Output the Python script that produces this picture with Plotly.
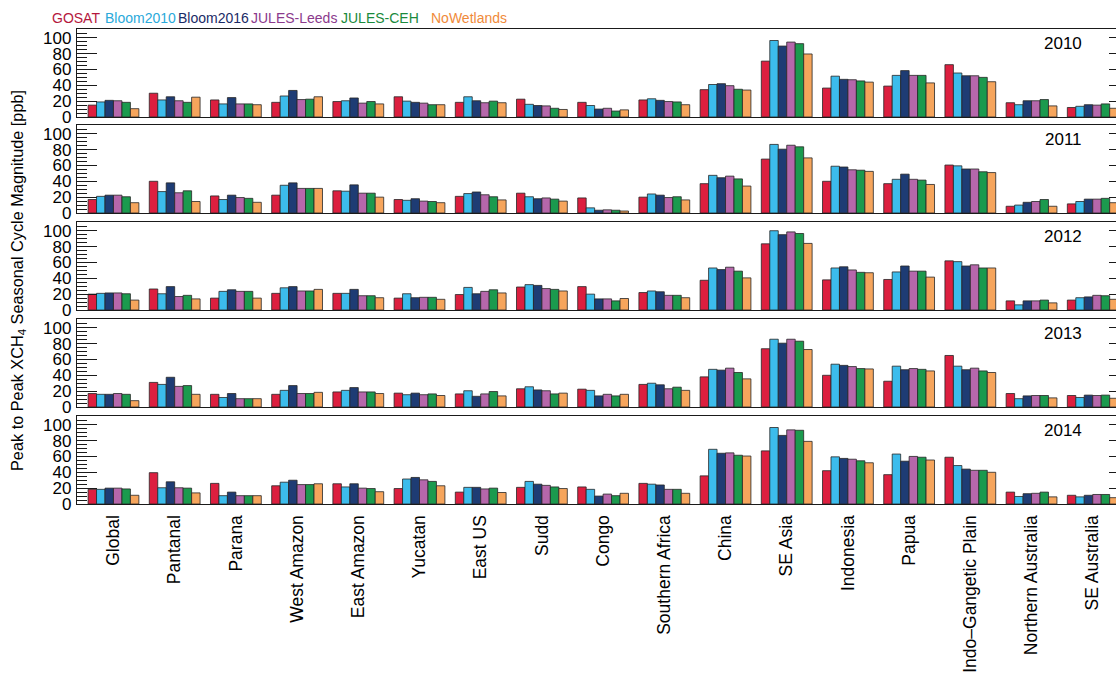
import plotly.graph_objects as go

regions = ["Global", "Pantanal", "Parana", "West Amazon", "East Amazon", "Yucatan",
           "East US", "Sudd", "Congo", "Southern Africa", "China", "SE Asia",
           "Indonesia", "Papua", "Indo–Gangetic Plain", "Northern Australia", "SE Australia"]
years = [2010, 2011, 2012, 2013, 2014]
series = ["GOSAT", "Bloom2010", "Bloom2016", "JULES-Leeds", "JULES-CEH", "NoWetlands"]

# peak-to-peak seasonal cycle magnitude [ppb], one list per year, regions in order above
gosat = [
    [15, 30, 21.5, 18.5, 19.5, 25.5, 18.5, 22.5, 18.5, 21.5, 34.5, 70.5, 36.5, 39, 66, 18, 12],
    [17, 40, 21.5, 22.5, 28, 17, 21, 25, 19, 20, 37, 68, 40, 37, 60.5, 8.5, 11.5],
    [20, 26.5, 15, 21, 21, 15, 19.5, 29, 29.5, 22, 37.5, 83.5, 38, 38.5, 62, 11.5, 12.5],
    [17, 31, 16, 16, 19, 17.5, 16.5, 23, 22.5, 28.5, 38, 73.5, 40, 32.5, 65, 17, 14.5],
    [18.5, 39.5, 26, 23, 25.5, 19.5, 15, 21, 21.5, 26, 35.5, 67, 42, 37, 59, 15, 11],
]
bloom2010 = [
    [19, 21.5, 16.5, 26.5, 20.5, 20, 25.5, 16, 14.5, 23, 41, 96.5, 51.5, 52.5, 55.5, 15.5, 13.5],
    [21, 27, 17, 35, 27.5, 16, 24.5, 20.5, 6.5, 24, 47.5, 86.5, 59, 42.5, 59.5, 10, 14.5],
    [21, 20.5, 23.5, 28, 21, 20.5, 28.5, 32, 20, 24, 53, 100, 53, 48, 61, 6.5, 15.5],
    [16, 28.5, 12, 21, 21, 15.5, 20.5, 25.5, 21, 30, 47.5, 85.5, 54, 51.5, 51.5, 10.5, 12],
    [18.5, 20.5, 10.5, 27.5, 21.5, 31.5, 21, 28.5, 18.5, 25, 69, 96.5, 59.5, 63, 48.5, 9.5, 9],
]
bloom2016 = [
    [21, 25.5, 24.5, 33.5, 24, 18.5, 20.5, 14.5, 10, 21, 42, 89.5, 47.5, 58.5, 52, 20.5, 15.5],
    [22.5, 38, 22.5, 38, 35.5, 18, 26.5, 18, 3.5, 22.5, 44.5, 80.5, 58, 49, 55.5, 13.5, 17.5],
    [21.5, 29.5, 25.5, 29.5, 26, 15.5, 20.5, 31, 14, 23, 51, 95, 54.5, 55.5, 55.5, 11.5, 16.5],
    [16, 37.5, 17, 27, 24.5, 17.5, 13.5, 21.5, 14, 28, 46.5, 80.5, 52.5, 47, 47, 14, 15],
    [20, 28, 15, 30, 25.5, 33.5, 21, 25, 10, 24, 64, 86.5, 57.5, 54, 44, 13, 11],
]
jules_leeds = [
    [20.5, 20.5, 16.5, 22, 17.5, 17.5, 18, 14, 11, 19.5, 39.5, 94.5, 47, 52.5, 52, 20.5, 15],
    [22.5, 25.5, 19.5, 31, 25, 15, 23, 19, 4, 19.5, 46.5, 85.5, 54.5, 42.5, 55.5, 14.5, 17.5],
    [21.5, 17, 23.5, 24, 18, 16, 23.5, 27, 14, 18.5, 54, 98.5, 50.5, 49, 57, 11.5, 18.5],
    [17, 26, 10.5, 17, 19, 15.5, 16.5, 20.5, 16, 23, 49, 85.5, 51, 48.5, 49, 14.5, 14.5],
    [20, 20.5, 10.5, 24.5, 20, 30.5, 19, 23.5, 12.5, 18.5, 64.5, 93.5, 56.5, 60, 42.5, 13.5, 12],
]
jules_ceh = [
    [18.5, 18.5, 16.5, 22.5, 19.5, 15.5, 20, 11, 7.5, 19, 35, 92.5, 45.5, 52.5, 50, 22, 16.5],
    [20.5, 28, 18.5, 31, 25, 14.5, 20.5, 17.5, 3.5, 20.5, 43, 83.5, 54, 41.5, 52, 17, 18.5],
    [20.5, 18.5, 23.5, 24, 18, 16, 25.5, 26, 11.5, 18.5, 49, 96.5, 47.5, 49, 53, 12.5, 18],
    [16, 27, 10.5, 17, 19, 16.5, 19.5, 16.5, 14, 25, 43.5, 83, 48.5, 47.5, 45.5, 14.5, 15],
    [19, 20, 10.5, 24.5, 19.5, 28.5, 20, 21.5, 10.5, 18.5, 61.5, 93, 54.5, 59, 42.5, 15, 12],
]
no_wetlands = [
    [10.5, 25, 15.5, 25.5, 16.5, 15.5, 18, 9.5, 9, 15.5, 34, 79.5, 44, 43, 44.5, 14, 11],
    [13, 14.5, 13.5, 31, 20, 13, 16.5, 15, 2.5, 16.5, 34, 69.5, 52.5, 36, 51, 8.5, 13],
    [12.5, 14, 15, 26, 15.5, 13.5, 21.5, 24, 14.5, 15.5, 40.5, 84, 47, 41.5, 53, 9, 13.5],
    [8, 16, 10.5, 18.5, 17, 14.5, 14, 17.5, 16, 21, 35.5, 72.5, 48, 45.5, 43.5, 11.5, 11],
    [11, 14, 10.5, 25.5, 15.5, 23, 14.5, 19.5, 13.5, 13.5, 60.5, 79, 52, 55.5, 40, 9, 8],
]

y_ticks = [0, 20, 40, 60, 80, 100]

all_series = [gosat, bloom2010, bloom2016, jules_leeds, jules_ceh, no_wetlands]
bar_colors = ["#dc1f3f", "#3cbcec", "#1e3c74", "#b667ab", "#1b9a4e", "#f6a55c"]
text_colors = ["#b5173d", "#2aa9da", "#1a2b66", "#8b3a8c", "#1a8a3c", "#f08a3a"]

W, H = 1116, 676
L, R = 77, 0
plot_w = W - L - R
panel_px = [(29, 117), (125, 213), (222, 310), (319, 407), (416, 504)]
FONT = "Liberation Sans, Arial, Helvetica, sans-serif"

fig = go.Figure()
xs = list(range(len(regions)))

for p, yr in enumerate(years):
    xa = "x" if p == 0 else f"x{p + 1}"
    ya = "y" if p == 0 else f"y{p + 1}"
    for s, name in enumerate(series):
        fig.add_trace(go.Bar(
            x=xs, y=all_series[s][p], name=name, xaxis=xa, yaxis=ya,
            marker=dict(color=bar_colors[s], line=dict(color="#262626", width=0.8)),
            showlegend=False, hoverinfo="x+y+name",
        ))
    # empty trace to carry the right-hand tick axis
    fig.add_trace(go.Scatter(x=[None], y=[None], xaxis=xa, yaxis=f"y{p + 6}",
                             showlegend=False, hoverinfo="skip"))

layout = dict(
    width=W, height=H, margin=dict(l=L, r=R, t=0, b=0),
    paper_bgcolor="white", plot_bgcolor="white",
    barmode="group", bargap=0.17, bargroupgap=0,
    font=dict(family=FONT, color="black"),
    showlegend=False,
)

for p, (top, bot) in enumerate(panel_px):
    dom = [1 - bot / H, 1 - top / H]
    xk = "xaxis" if p == 0 else f"xaxis{p + 1}"
    yk = "yaxis" if p == 0 else f"yaxis{p + 1}"
    ya = "y" if p == 0 else f"y{p + 1}"
    xa = "x" if p == 0 else f"x{p + 1}"
    last = p == len(panel_px) - 1
    layout[xk] = dict(
        domain=[0, 1], anchor=ya, range=[-0.596, 16.38],
        showline=True, mirror=True, linecolor="#1a1a1a", linewidth=1.3,
        showgrid=False, zeroline=False, ticks="",
        tickmode="array", tickvals=xs, ticktext=regions,
        showticklabels=last, tickangle=-90,
        tickfont=dict(family=FONT, size=17.5, color="black"),
        ticklabelstandoff=3, automargin=False, fixedrange=True,
    )
    layout[yk] = dict(
        domain=dom, anchor=xa, range=[0, 111],
        showline=True, mirror=False, linecolor="#1a1a1a", linewidth=1.3,
        showgrid=False, zeroline=False,
        tickmode="array", tickvals=y_ticks, ticks="inside", ticklen=20,
        tickwidth=1.2, tickcolor="#1a1a1a",
        minor=dict(dtick=5, tick0=0, ticks="inside", ticklen=10, tickwidth=1,
                   tickcolor="#1a1a1a", showgrid=False),
        tickfont=dict(family=FONT, size=17, color="black"),
        ticklabelstandoff=1, automargin=False, fixedrange=True,
    )
    layout[f"yaxis{p + 6}"] = dict(
        overlaying=ya, side="right", anchor=xa, range=[0, 111],
        showline=False, showgrid=False, zeroline=False,
        tickmode="array", tickvals=y_ticks, ticks="inside", ticklen=7,
        tickwidth=1.2, tickcolor="#1a1a1a", showticklabels=False,
        fixedrange=True,
    )

fig.update_layout(**layout)


def px_x(v):
    return (v - L) / plot_w


def px_y(v):
    return 1 - v / H


annotations = []
# series names across the top, each in its own colour
legend_cx = [76, 140, 213, 294, 380, 469]
for name, col, cx in zip(series, text_colors, legend_cx):
    annotations.append(dict(
        text=name, x=px_x(cx), y=px_y(18), xref="paper", yref="paper",
        xanchor="center", yanchor="middle", showarrow=False,
        font=dict(family=FONT, size=14, color=col),
    ))

# year label in the top-right corner of each panel
for yr, (top, bot) in zip(years, panel_px):
    annotations.append(dict(
        text=str(yr), x=px_x(1084), y=px_y(top + 14), xref="paper", yref="paper",
        xanchor="right", yanchor="middle", showarrow=False,
        font=dict(family=FONT, size=17, color="black"),
    ))

annotations.append(dict(
    text="Peak to Peak XCH<sub>4</sub> Seasonal Cycle Magnitude [ppb]",
    x=px_x(18), y=px_y(281), xref="paper", yref="paper",
    xanchor="center", yanchor="middle", textangle=-90, showarrow=False,
    font=dict(family=FONT, size=16.3, color="black"),
))

fig.update_layout(annotations=annotations)
fig.write_html("out.html")
